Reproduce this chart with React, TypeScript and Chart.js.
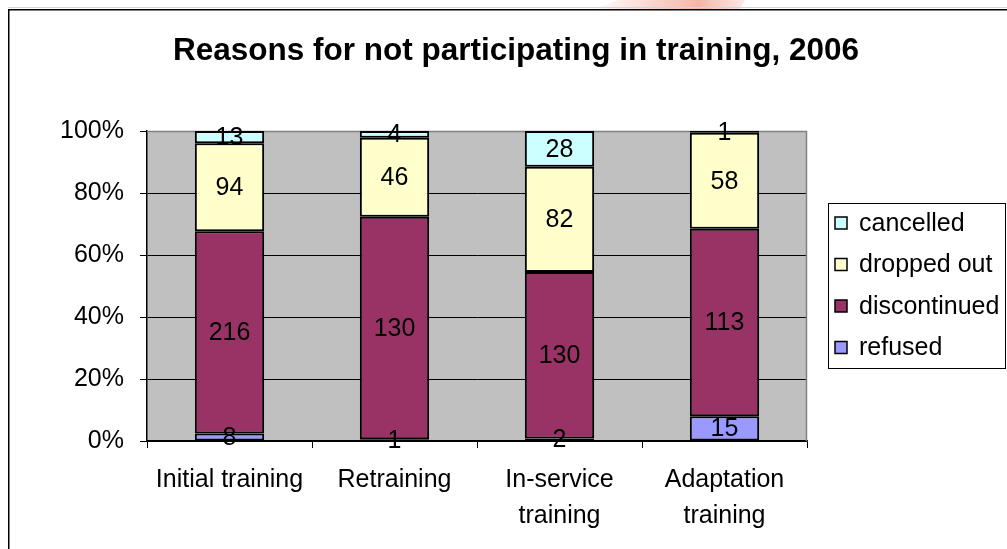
import React, { useEffect, useRef } from "react";
import { Chart, registerables } from "chart.js";

Chart.register(...registerables);

const title = "Reasons for not participating in training, 2006";
const categories: string[][] = [
  ["Initial training"],
  ["Retraining"],
  ["In-service", "training"],
  ["Adaptation", "training"],
];
const seriesNames = ["refused", "discontinued", "dropped out", "cancelled"];
const refused = [8, 1, 2, 15];
const discontinued = [216, 130, 130, 113];
const droppedOut = [94, 46, 82, 58];
const cancelled = [13, 4, 28, 1];
const seriesColors = ["#9999FF", "#993366", "#FFFFCC", "#CCFFFF"];
const yTicks = [0, 20, 40, 60, 80, 100];

const FONT = "'Liberation Sans', Arial, sans-serif";

export default function App() {
  const ref = useRef<HTMLCanvasElement | null>(null);

  useEffect(() => {
    const canvas = ref.current;
    if (!canvas) return;
    const series = [refused, discontinued, droppedOut, cancelled];
    const totals = categories.map((_, j) => series.reduce((s, arr) => s + arr[j], 0));

    const datasets = series.map((arr, i) => ({
      label: seriesNames[i],
      data: arr.map((v, j) => (v / totals[j]) * 100),
      raw: arr,
      backgroundColor: seriesColors[i],
      borderColor: "#000000",
      borderWidth: 2,
      borderSkipped: false as const,
      barPercentage: 0.42,
      categoryPercentage: 1,
    }));

    const decor = {
      id: "decor",
      beforeDraw(chart: any) {
        const { ctx, chartArea } = chart;
        ctx.save();
        // faint watermark stripe at top
        const g = ctx.createLinearGradient(590, 0, 745, 0);
        g.addColorStop(0, "rgba(238,140,115,0)");
        g.addColorStop(0.4, "rgba(238,140,115,0.35)");
        g.addColorStop(0.7, "rgba(238,120,95,0.55)");
        g.addColorStop(1, "rgba(238,140,115,0.2)");
        ctx.fillStyle = g;
        ctx.beginPath();
        ctx.moveTo(596, 9);
        ctx.lineTo(618, 0);
        ctx.lineTo(745, 0);
        ctx.lineTo(740, 9);
        ctx.closePath();
        ctx.fill();
        // light line above frame
        ctx.strokeStyle = "#d4d4d4";
        ctx.lineWidth = 1;
        ctx.beginPath();
        ctx.moveTo(8, 7.5);
        ctx.lineTo(1007, 7.5);
        ctx.stroke();
        // outer frame
        ctx.strokeStyle = "#000000";
        ctx.lineWidth = 1.5;
        ctx.beginPath();
        ctx.moveTo(8.75, 560);
        ctx.lineTo(8.75, 9.75);
        ctx.lineTo(1020, 9.75);
        ctx.stroke();
        // plot background
        ctx.fillStyle = "#C0C0C0";
        ctx.fillRect(chartArea.left, chartArea.top, chartArea.right - chartArea.left, chartArea.bottom - chartArea.top);
        // title
        ctx.fillStyle = "#000000";
        ctx.font = `bold 31.5px ${FONT}`;
        ctx.textAlign = "center";
        ctx.textBaseline = "alphabetic";
        ctx.fillText(title, 516, 60);
        ctx.restore();
      },
      beforeDatasetsDraw(chart: any) {
        const { ctx, chartArea } = chart;
        ctx.save();
        ctx.strokeStyle = "#808080";
        ctx.lineWidth = 1.5;
        ctx.beginPath();
        ctx.moveTo(chartArea.left, chartArea.top + 0.5);
        ctx.lineTo(chartArea.right - 0.5, chartArea.top + 0.5);
        ctx.lineTo(chartArea.right - 0.5, chartArea.bottom);
        ctx.stroke();
        ctx.restore();
      },
      afterDatasetsDraw(chart: any) {
        const { ctx } = chart;
        ctx.save();
        ctx.fillStyle = "#000000";
        ctx.font = `25px ${FONT}`;
        ctx.textAlign = "center";
        ctx.textBaseline = "middle";
        chart.data.datasets.forEach((ds: any, i: number) => {
          const meta = chart.getDatasetMeta(i);
          meta.data.forEach((bar: any, j: number) => {
            const cy = (bar.y + bar.base) / 2;
            ctx.fillText(String(ds.raw[j]), bar.x, cy + 1);
          });
        });
        // legend
        const lx = 828, ly = 203, lw = 177, lh = 165;
        ctx.fillStyle = "#FFFFFF";
        ctx.fillRect(lx, ly, lw, lh);
        ctx.strokeStyle = "#000000";
        ctx.lineWidth = 1;
        ctx.strokeRect(lx + 0.5, ly + 0.5, lw, lh);
        const order = [...chart.data.datasets].reverse();
        ctx.font = `25px ${FONT}`;
        ctx.textAlign = "left";
        ctx.textBaseline = "middle";
        order.forEach((ds: any, k: number) => {
          const cy = 223 + k * 41.5;
          ctx.fillStyle = ds.backgroundColor;
          ctx.fillRect(835, cy - 6, 12, 12);
          ctx.strokeStyle = "#000000";
          ctx.lineWidth = 1.5;
          ctx.strokeRect(835, cy - 6, 12, 12);
          ctx.fillStyle = "#000000";
          ctx.fillText(ds.label, 859, cy + 1);
        });
        ctx.restore();
      },
    };

    const chart = new Chart(canvas, {
      type: "bar",
      data: { labels: categories, datasets: datasets as any },
      options: {
        responsive: false,
        animation: false,
        devicePixelRatio: 1,
        layout: { padding: { top: 131, right: 200, left: 0, bottom: 0 } },
        plugins: {
          legend: { display: false },
          title: { display: false },
          tooltip: { enabled: false },
        },
        scales: {
          x: {
            stacked: true,
            offset: true,
            afterFit: (s: any) => {
              s.height = 108;
            },
            grid: {
              drawOnChartArea: false,
              drawTicks: true,
              tickLength: 7,
              color: "#000000",
              lineWidth: 1,
              offset: true,
            },
            border: { color: "#000000", width: 1.5 },
            ticks: {
              color: "#000000",
              padding: 14,
              maxRotation: 0,
              autoSkip: false,
              font: { family: FONT, size: 25, lineHeight: 1.44 },
            },
          },
          y: {
            stacked: true,
            min: yTicks[0],
            max: yTicks[yTicks.length - 1],
            afterFit: (s: any) => {
              s.width = 147;
            },
            afterBuildTicks: (s: any) => {
              s.ticks = yTicks.map((v) => ({ value: v }));
            },
            grid: {
              color: "#000000",
              lineWidth: 1,
              drawTicks: true,
              tickLength: 7,
            },
            border: { color: "#000000", width: 1.5 },
            ticks: {
              color: "#000000",
              padding: 16,
              font: { family: FONT, size: 25 },
              callback: (v: any) => `${v}%`,
            },
          },
        },
      },
      plugins: [decor],
    });
    return () => chart.destroy();
  }, []);

  return (
    <div style={{ position: "fixed", left: 0, top: 0, width: 1007, height: 549, background: "#ffffff" }}>
      <canvas ref={ref} width={1007} height={549} style={{ display: "block" }} />
    </div>
  );
}
